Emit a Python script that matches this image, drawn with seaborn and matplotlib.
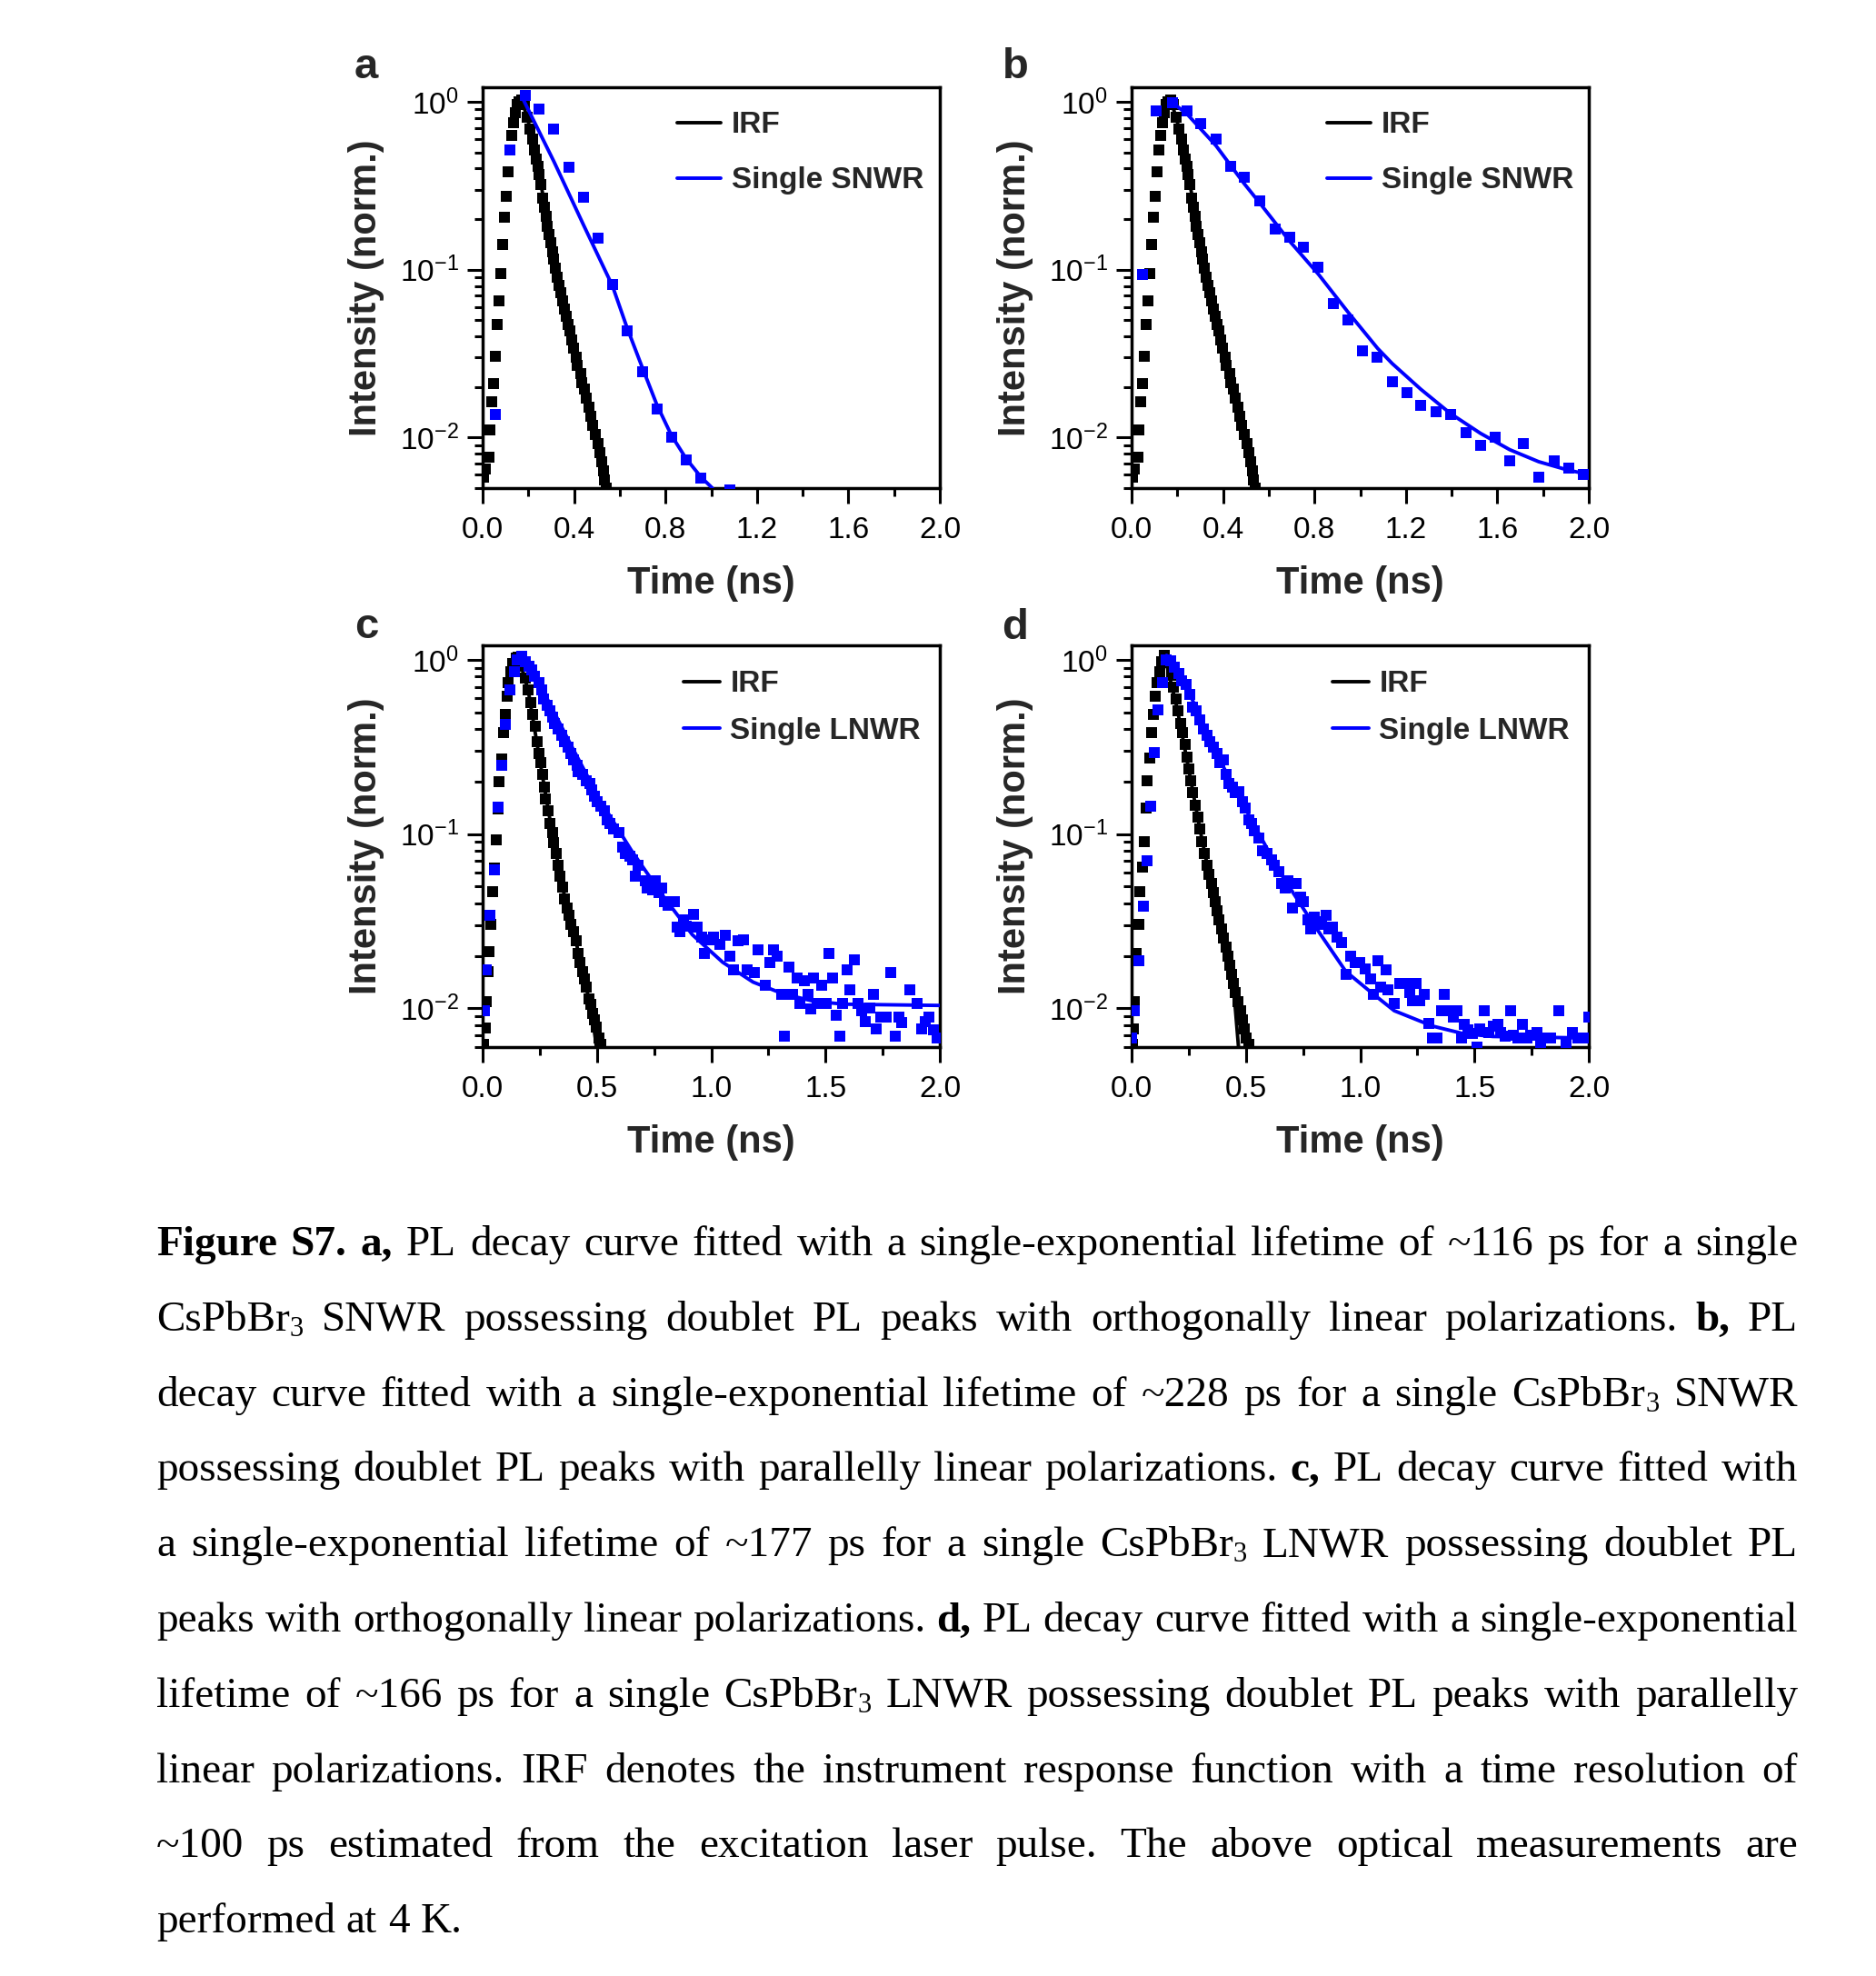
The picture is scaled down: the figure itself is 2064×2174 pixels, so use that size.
import matplotlib
matplotlib.use("Agg")
import matplotlib.pyplot as plt
import seaborn as sns
from matplotlib.lines import Line2D
from matplotlib.ticker import (MultipleLocator, FixedLocator, FixedFormatter,
                               LogLocator, NullFormatter, FormatStrFormatter)

# ---------------- data ----------------
# IRF used in panels a and b
irf_ab_t = [0.005, 0.013, 0.027, 0.032, 0.040, 0.048, 0.056, 0.065, 0.072, 0.081,
            0.089, 0.096, 0.105, 0.112, 0.120, 0.128, 0.136, 0.143, 0.151, 0.160,
            0.170, 0.182, 0.195, 0.208, 0.218, 0.226, 0.235, 0.242, 0.248, 0.255,
            0.264, 0.271, 0.279, 0.284, 0.292, 0.300, 0.305, 0.311, 0.319, 0.328,
            0.335, 0.343, 0.348, 0.356, 0.364, 0.374, 0.382, 0.388, 0.396, 0.408,
            0.414, 0.428, 0.434, 0.444, 0.454, 0.467, 0.474, 0.483, 0.494, 0.505,
            0.514, 0.521, 0.527, 0.534, 0.539]
irf_ab_i = [0.0058, 0.0065, 0.0076, 0.0111, 0.0163, 0.0209, 0.0306, 0.0474, 0.0652, 0.0948,
            0.141, 0.205, 0.274, 0.382, 0.515, 0.634, 0.748, 0.865, 0.968, 1.0,
            1.02, 0.96, 0.81, 0.69, 0.60, 0.515, 0.455, 0.41, 0.37, 0.32,
            0.265, 0.234, 0.207, 0.182, 0.161, 0.145, 0.128, 0.116, 0.102, 0.090,
            0.081, 0.073, 0.065, 0.058, 0.053, 0.047, 0.043, 0.038, 0.034, 0.030,
            0.027, 0.0239, 0.0211, 0.0194, 0.0171, 0.0151, 0.0134, 0.0118, 0.0104, 0.0092,
            0.0081, 0.0072, 0.0063, 0.0056, 0.0050]
irf_ab_fit_t = [0.150, 0.168, 0.200, 0.250, 0.300, 0.350, 0.400, 0.450, 0.500, 0.537]
irf_ab_fit_i = [0.97, 1.06, 0.76, 0.355, 0.145, 0.063, 0.033, 0.018, 0.0098, 0.0050]

# panel a, single SNWR
snwr_a_t = [0.056, 0.120, 0.185, 0.248, 0.312, 0.377, 0.441, 0.505, 0.568, 0.632,
            0.699, 0.762, 0.826, 0.890, 0.956, 1.081]
snwr_a_i = [0.0138, 0.519, 1.096, 0.909, 0.689, 0.408, 0.270, 0.155, 0.0812, 0.0431,
            0.0247, 0.0148, 0.0100, 0.00733, 0.00571, 0.0049]
snwr_a_fit_t = [0.175, 0.312, 0.441, 0.568, 0.632, 0.699, 0.762, 0.826, 0.890, 0.956, 1.005]
snwr_a_fit_i = [1.05, 0.44, 0.185, 0.080, 0.045, 0.026, 0.0157, 0.0103, 0.0075, 0.0058, 0.0050]

# panel b, single SNWR
snwr_b_t = [0.047, 0.109, 0.179, 0.242, 0.303, 0.370, 0.432, 0.492, 0.561, 0.627,
            0.691, 0.751, 0.817, 0.884, 0.946, 1.010, 1.074, 1.140, 1.204, 1.265,
            1.332, 1.395, 1.462, 1.526, 1.592, 1.654, 1.714, 1.781, 1.847, 1.911, 1.977]
snwr_b_i = [0.0932, 0.883, 0.99, 0.883, 0.742, 0.603, 0.415, 0.357, 0.256, 0.175,
            0.156, 0.136, 0.104, 0.0625, 0.0504, 0.0327, 0.030, 0.0214, 0.0186, 0.0155,
            0.0142, 0.0137, 0.0107, 0.0090, 0.0101, 0.00724, 0.0092, 0.00583, 0.00724, 0.0066, 0.0060]
snwr_b_fit_t = [0.173, 0.242, 0.369, 0.492, 0.561, 0.691, 0.817, 0.946, 1.076, 1.140,
                1.265, 1.395, 1.526, 1.654, 1.781, 1.911, 2.0]
snwr_b_fit_i = [1.0, 0.847, 0.548, 0.326, 0.249, 0.148, 0.094, 0.056, 0.034, 0.0276,
                0.0194, 0.0139, 0.0106, 0.00847, 0.00718, 0.00639, 0.00603]

# IRF in panel c
irf_c_t = [0.005, 0.011, 0.016, 0.024, 0.029, 0.035, 0.043, 0.051, 0.060, 0.066,
           0.073, 0.082, 0.090, 0.100, 0.106, 0.113, 0.122, 0.133, 0.146, 0.157,
           0.173, 0.186, 0.199, 0.210, 0.219, 0.229, 0.239, 0.246, 0.253, 0.263,
           0.270, 0.276, 0.286, 0.295, 0.306, 0.312, 0.322, 0.330, 0.338, 0.348,
           0.359, 0.369, 0.379, 0.385, 0.396, 0.409, 0.419, 0.425, 0.436, 0.445,
           0.454, 0.465, 0.473, 0.481, 0.489, 0.498, 0.508, 0.516]
irf_c_i = [0.0062, 0.00768, 0.0109, 0.0162, 0.0211, 0.0303, 0.047, 0.064, 0.0927, 0.140,
           0.200, 0.270, 0.383, 0.487, 0.619, 0.741, 0.853, 0.953, 1.02, 1.03,
           0.923, 0.787, 0.670, 0.571, 0.487, 0.415, 0.340, 0.290, 0.257, 0.219,
           0.187, 0.159, 0.1355, 0.1155, 0.1024, 0.0891, 0.0774, 0.066, 0.0574, 0.0499,
           0.0425, 0.0377, 0.0341, 0.0303, 0.0274, 0.0243, 0.0207, 0.0184, 0.0163, 0.0147,
           0.0133, 0.0114, 0.0105, 0.0093, 0.0086, 0.0078, 0.00676, 0.00624]
irf_c_fit_t = [0.140, 0.157, 0.200, 0.250, 0.300, 0.350, 0.400, 0.450, 0.478, 0.498]
irf_c_fit_i = [0.95, 1.05, 0.66, 0.265, 0.11, 0.049, 0.027, 0.0138, 0.0094, 0.0060]

# panel c, single LNWR
lnwr_c_t = [0.007, 0.016, 0.033, 0.051, 0.066, 0.082, 0.100, 0.120, 0.140, 0.153,
            0.170, 0.186, 0.202, 0.215, 0.226, 0.246, 0.259, 0.268, 0.282, 0.295,
            0.306, 0.316, 0.330, 0.346, 0.356, 0.372, 0.385, 0.399, 0.415, 0.419,
            0.439, 0.454, 0.468, 0.476, 0.489, 0.502, 0.516, 0.532, 0.545, 0.558,
            0.574, 0.598, 0.611, 0.625, 0.645, 0.658, 0.667, 0.678, 0.711, 0.720,
            0.742, 0.757, 0.771, 0.784, 0.797, 0.811, 0.837, 0.850, 0.864, 0.877,
            0.890, 0.924, 0.937, 0.957, 0.970, 0.990, 1.010, 1.037, 1.063, 1.083,
            1.096, 1.116, 1.143, 1.156, 1.189, 1.203, 1.236, 1.256, 1.273, 1.289,
            1.309, 1.322, 1.340, 1.355, 1.375, 1.389, 1.406, 1.422, 1.435, 1.448,
            1.462, 1.482, 1.502, 1.515, 1.531, 1.548, 1.561, 1.575, 1.595, 1.608,
            1.628, 1.641, 1.658, 1.674, 1.694, 1.708, 1.721, 1.741, 1.767, 1.787,
            1.805, 1.821, 1.834, 1.867, 1.900, 1.920, 1.938, 1.953, 1.973, 1.987]
lnwr_c_i = [0.0097, 0.0166, 0.0341, 0.0621, 0.142, 0.249, 0.428, 0.670, 0.853, 1.0,
            1.05, 0.98, 0.923, 0.87, 0.803, 0.741, 0.670, 0.594, 0.549, 0.507,
            0.468, 0.432, 0.399, 0.368, 0.340, 0.314, 0.290, 0.267, 0.247, 0.228,
            0.219, 0.202, 0.194, 0.179, 0.1655, 0.1528, 0.144, 0.1355, 0.120, 0.1155,
            0.1067, 0.1024, 0.0839, 0.0774, 0.0744, 0.0715, 0.0574, 0.066, 0.054, 0.0489,
            0.048, 0.054, 0.046, 0.0489, 0.0408, 0.0392, 0.0408, 0.0291, 0.0274, 0.0321,
            0.0297, 0.0348, 0.0291, 0.0258, 0.0207, 0.0248, 0.0258, 0.0233, 0.0263, 0.0199,
            0.0166, 0.0243, 0.0248, 0.0166, 0.0160, 0.0216, 0.0136, 0.0184, 0.0216, 0.0199,
            0.0121, 0.0069, 0.0173, 0.0121, 0.0150, 0.0107, 0.01445, 0.0121, 0.0099, 0.0150,
            0.0107, 0.0136, 0.0107, 0.0207, 0.0150, 0.0091, 0.0069, 0.0107, 0.0166, 0.0128,
            0.0191, 0.0107, 0.0097, 0.0084, 0.0101, 0.0121, 0.0076, 0.0089, 0.0089, 0.0160,
            0.0069, 0.0089, 0.0083, 0.0128, 0.0107, 0.0076, 0.0084, 0.0089, 0.0075, 0.0068]
lnwr_c_fit_t = [0.159, 0.2525, 0.385, 0.518, 0.651, 0.784, 0.917, 1.050, 1.183, 1.316,
                1.448, 1.581, 2.0]
lnwr_c_fit_i = [1.06, 0.712, 0.327, 0.153, 0.0805, 0.0451, 0.0265, 0.0184, 0.01416, 0.0121,
                0.0110, 0.01057, 0.0104]

# IRF in panel d
irf_d_t = [0.002, 0.007, 0.011, 0.020, 0.033, 0.037, 0.047, 0.056, 0.064, 0.069,
           0.080, 0.086, 0.096, 0.104, 0.113, 0.122, 0.133, 0.143,
           0.160, 0.173, 0.183, 0.193, 0.202, 0.213, 0.223, 0.233, 0.242, 0.250,
           0.259, 0.268, 0.279, 0.290, 0.299, 0.308, 0.319, 0.330, 0.339, 0.348,
           0.356, 0.365, 0.375, 0.383, 0.392, 0.401, 0.412, 0.420, 0.428, 0.439,
           0.447, 0.455, 0.465, 0.476, 0.485, 0.494, 0.502, 0.512]
irf_d_i = [0.0062, 0.0076, 0.0109, 0.0207, 0.0303, 0.047, 0.0647, 0.0908, 0.141, 0.202,
           0.273, 0.383, 0.487, 0.619, 0.741, 0.853, 0.98, 1.06,
           0.961, 0.819, 0.698, 0.595, 0.507, 0.432, 0.383, 0.327, 0.278, 0.237,
           0.202, 0.172, 0.147, 0.125, 0.1067, 0.0908, 0.0774, 0.066, 0.0585, 0.0519,
           0.046, 0.0408, 0.0362, 0.0321, 0.0285, 0.0253, 0.0224, 0.0199, 0.0177, 0.0156,
           0.0139, 0.0123, 0.0109, 0.0097, 0.0086, 0.0076, 0.00676, 0.00624]
irf_d_fit_t = [0.130, 0.143, 0.200, 0.250, 0.300, 0.350, 0.400, 0.430, 0.450, 0.470]
irf_d_fit_i = [0.95, 1.07, 0.52, 0.235, 0.105, 0.050, 0.0255, 0.0165, 0.0115, 0.0055]

# panel d, single LNWR
lnwr_d_t = [0.000, 0.011, 0.033, 0.051, 0.066, 0.082, 0.100, 0.117, 0.136, 0.153,
            0.170, 0.186, 0.206, 0.219, 0.239, 0.2525, 0.268, 0.282, 0.299, 0.316,
            0.330, 0.343, 0.356, 0.372, 0.385, 0.401, 0.415, 0.425, 0.441, 0.454,
            0.468, 0.485, 0.498, 0.512, 0.525, 0.538, 0.555, 0.574, 0.591, 0.611,
            0.625, 0.645, 0.658, 0.671, 0.684, 0.704, 0.718, 0.738, 0.751, 0.771,
            0.784, 0.800, 0.817, 0.831, 0.850, 0.864, 0.880, 0.897, 0.917, 0.937,
            0.957, 0.977, 0.997, 1.023, 1.047, 1.056, 1.076, 1.090, 1.114, 1.123,
            1.149, 1.172, 1.196, 1.216, 1.229, 1.246, 1.262, 1.282, 1.302, 1.316,
            1.336, 1.355, 1.369, 1.389, 1.406, 1.422, 1.442, 1.455, 1.472, 1.491,
            1.512, 1.522, 1.542, 1.561, 1.581, 1.601, 1.615, 1.635, 1.658, 1.668,
            1.688, 1.708, 1.728, 1.747, 1.774, 1.791, 1.807, 1.834, 1.867, 1.900,
            1.927, 1.951, 1.977, 2.000]
lnwr_d_i = [0.0068, 0.0097, 0.0187, 0.0385, 0.070, 0.144, 0.295, 0.517, 0.741, 1.0,
            0.99, 0.905, 0.835, 0.756, 0.726, 0.631, 0.538, 0.507, 0.450, 0.399,
            0.368, 0.340, 0.314, 0.290, 0.257, 0.267, 0.219, 0.194, 0.187, 0.172,
            0.176, 0.1528, 0.141, 0.120, 0.1155, 0.1045, 0.0946, 0.0805, 0.0774, 0.0715,
            0.066, 0.061, 0.0519, 0.0489, 0.054, 0.0377, 0.0519, 0.0434, 0.0408, 0.0321,
            0.0285, 0.0334, 0.0303, 0.0315, 0.0341, 0.0285, 0.0291, 0.0258, 0.0238, 0.0156,
            0.0199, 0.0184, 0.0184, 0.0169, 0.0147, 0.0121, 0.0187, 0.0133, 0.0166, 0.0128,
            0.0107, 0.0139, 0.0139, 0.0123, 0.0111, 0.0139, 0.0111, 0.0121, 0.0082, 0.00676,
            0.00676, 0.0097, 0.0121, 0.0097, 0.0089, 0.0097, 0.00676, 0.0081, 0.0075, 0.0072,
            0.0060, 0.0076, 0.0097, 0.0073, 0.0079, 0.0081, 0.0073, 0.0069, 0.0097, 0.00703,
            0.00676, 0.0081, 0.00676, 0.00703, 0.0073, 0.00624, 0.00676, 0.00676, 0.0097, 0.00624,
            0.0073, 0.00676, 0.00676, 0.0089]
lnwr_d_fit_t = [0.153, 0.2525, 0.385, 0.518, 0.651, 0.784, 0.937, 1.050, 1.149, 1.316,
                1.448, 1.581, 2.0]
lnwr_d_fit_i = [1.06, 0.644, 0.267, 0.125, 0.0597, 0.0321, 0.0163, 0.0123, 0.0097, 0.00792,
                0.00718, 0.0069, 0.00676]

panel_letters = ["a", "b", "c", "d"]
legend_labels = [["IRF", "Single SNWR"], ["IRF", "Single SNWR"],
                 ["IRF", "Single LNWR"], ["IRF", "Single LNWR"]]
ytick_values = [0.01, 0.1, 1.0]
ytick_labels = [r"$\mathregular{10^{-2}}$", r"$\mathregular{10^{-1}}$", r"$\mathregular{10^{0}}$"]

caption_lines = [
    "*Figure S7. a,* PL decay curve fitted with a single-exponential lifetime of ~116 ps for a single",
    "CsPbBr_3 SNWR possessing doublet PL peaks with orthogonally linear polarizations. *b,* PL",
    "decay curve fitted with a single-exponential lifetime of ~228 ps for a single CsPbBr_3 SNWR",
    "possessing doublet PL peaks with parallelly linear polarizations. *c,* PL decay curve fitted with",
    "a single-exponential lifetime of ~177 ps for a single CsPbBr_3 LNWR possessing doublet PL",
    "peaks with orthogonally linear polarizations. *d,* PL decay curve fitted with a single-exponential",
    "lifetime of ~166 ps for a single CsPbBr_3 LNWR possessing doublet PL peaks with parallelly",
    "linear polarizations. IRF denotes the instrument response function with a time resolution of",
    "~100 ps estimated from the excitation laser pulse. The above optical measurements are",
    "performed at 4 K.",
]

# ---------------- style ----------------
sns.set_theme(style="ticks")
plt.rcParams.update({
    "font.family": ["Liberation Sans", "DejaVu Sans"],
    "mathtext.fontset": "custom",
    "mathtext.rm": "Liberation Sans",
    "mathtext.it": "Liberation Sans:italic",
    "mathtext.bf": "Liberation Sans:bold",
    "axes.unicode_minus": False,
    "axes.edgecolor": "black",
    "axes.linewidth": 2.5,
    "xtick.color": "black",
    "ytick.color": "black",
})

W, H = 2064, 2174
fig = plt.figure(figsize=(W / 100, H / 100), dpi=100)
fig.patch.set_facecolor("white")

BLUE = "#0000ff"
MS = 66


def add_axes_px(left, top, right, bottom):
    return fig.add_axes([left / W, 1 - bottom / H, (right - left) / W, (bottom - top) / H])


panels = [
    dict(box=(531, 96, 1034, 537), irf=(irf_ab_t, irf_ab_i), irf_fit=(irf_ab_fit_t, irf_ab_fit_i),
         smp=(snwr_a_t, snwr_a_i), smp_fit=(snwr_a_fit_t, snwr_a_fit_i), ylim=(0.005, 1.22),
         xmaj=0.4, xmin=0.2, leg=(0.425, 0.940), hl=1.45, ls=0.90, letter=(403, 86)),
    dict(box=(1245, 96, 1748, 537), irf=(irf_ab_t, irf_ab_i), irf_fit=(irf_ab_fit_t, irf_ab_fit_i),
         smp=(snwr_b_t, snwr_b_i), smp_fit=(snwr_b_fit_t, snwr_b_fit_i), ylim=(0.005, 1.22),
         xmaj=0.4, xmin=0.2, leg=(0.427, 0.940), hl=1.45, ls=0.90, letter=(1117, 86)),
    dict(box=(531, 710, 1034, 1152), irf=(irf_c_t, irf_c_i), irf_fit=(irf_c_fit_t, irf_c_fit_i),
         smp=(lnwr_c_t, lnwr_c_i), smp_fit=(lnwr_c_fit_t, lnwr_c_fit_i), ylim=(0.006, 1.21),
         xmaj=0.5, xmin=0.25, leg=(0.439, 0.938), hl=1.2, ls=0.62, letter=(403, 702)),
    dict(box=(1245, 710, 1748, 1152), irf=(irf_d_t, irf_d_i), irf_fit=(irf_d_fit_t, irf_d_fit_i),
         smp=(lnwr_d_t, lnwr_d_i), smp_fit=(lnwr_d_fit_t, lnwr_d_fit_i), ylim=(0.006, 1.21),
         xmaj=0.5, xmin=0.25, leg=(0.439, 0.938), hl=1.2, ls=0.62, letter=(1117, 703)),
]

for k, p in enumerate(panels):
    ax = add_axes_px(*p["box"])
    sns.scatterplot(x=p["irf"][0], y=p["irf"][1], marker="s", s=MS, color="black",
                    linewidth=0, ax=ax, zorder=2)
    sns.lineplot(x=p["irf_fit"][0], y=p["irf_fit"][1], color="black", linewidth=2.8,
                 sort=False, estimator=None, ax=ax, zorder=3)
    sns.scatterplot(x=p["smp"][0], y=p["smp"][1], marker="s", s=MS, color=BLUE,
                    linewidth=0, ax=ax, zorder=4)
    sns.lineplot(x=p["smp_fit"][0], y=p["smp_fit"][1], color=BLUE, linewidth=2.8,
                 sort=False, estimator=None, ax=ax, zorder=5)
    ax.set_yscale("log")
    ax.set_xlim(0, 2.0)
    ax.set_ylim(*p["ylim"])
    ax.xaxis.set_major_locator(MultipleLocator(p["xmaj"]))
    ax.xaxis.set_minor_locator(MultipleLocator(p["xmin"]))
    ax.xaxis.set_major_formatter(FormatStrFormatter("%.1f"))
    ax.yaxis.set_major_locator(FixedLocator(ytick_values))
    ax.yaxis.set_major_formatter(FixedFormatter(ytick_labels))
    ax.yaxis.set_minor_locator(LogLocator(base=10, subs=[2, 3, 4, 5, 6, 7, 8, 9], numticks=20))
    ax.yaxis.set_minor_formatter(NullFormatter())
    ax.tick_params(which="both", direction="out", top=False, right=False, width=2.2,
                   labelsize=24, colors="black")
    ax.tick_params(axis="x", which="major", length=12, pad=10)
    ax.tick_params(axis="y", which="major", length=12, pad=7)
    ax.tick_params(which="minor", length=6.5)
    for sp in ax.spines.values():
        sp.set_visible(True)
        sp.set_linewidth(2.5)
        sp.set_color("black")
    ax.set_xlabel("Time (ns)", fontsize=30, fontweight="bold", labelpad=17)
    ax.set_ylabel("Intensity (norm.)", fontsize=30, fontweight="bold", labelpad=12)
    handles = [Line2D([0], [0], color="black", lw=2.8), Line2D([0], [0], color=BLUE, lw=2.8)]
    ax.legend(handles, legend_labels[k], loc="upper left", bbox_to_anchor=p["leg"],
              frameon=False, prop={"weight": "bold", "size": 24},
              handlelength=p["hl"], handletextpad=0.35, labelspacing=p["ls"],
              borderpad=0, borderaxespad=0)
    lx, ly = p["letter"]
    fig.text(lx / W, 1 - ly / H, panel_letters[k], fontsize=34, fontweight="bold",
             ha="center", va="baseline")

# ---------------- caption (justified) ----------------
CAP_FS = 34
SUB_FS = 22
SERIF = ["Liberation Serif", "DejaVu Serif"]
renderer = fig.canvas.get_renderer()


def parse_line(line, bold):
    words = []
    for w in line.split(" "):
        runs, cur, i = [], "", 0
        while i < len(w):
            c = w[i]
            if c == "*":
                if cur:
                    runs.append((cur, "b" if bold else "r"))
                    cur = ""
                bold = not bold
            elif c == "_":
                if cur:
                    runs.append((cur, "b" if bold else "r"))
                    cur = ""
                runs.append((w[i + 1], "s"))
                i += 1
            else:
                cur += c
            i += 1
        if cur:
            runs.append((cur, "b" if bold else "r"))
        words.append(runs)
    return words, bold


def make_text(x, y, s, style):
    return fig.text(x / W, 1 - y / H, s, family=SERIF,
                    fontsize=SUB_FS if style == "s" else CAP_FS,
                    fontweight="bold" if style == "b" else "normal",
                    ha="left", va="baseline", color="black")


def run_width(s, style):
    t = make_text(0, 0, s, style)
    w = t.get_window_extent(renderer).width
    t.remove()
    return w


X0, X1 = 172, 1978
Y0, DY = 1381, 82.8
space_w = run_width("a a", "r") - 2 * run_width("a", "r")
bold_state = False
for li, line in enumerate(caption_lines):
    words, bold_state = parse_line(line, bold_state)
    widths = [sum(run_width(s, st) for s, st in wd) for wd in words]
    last = li == len(caption_lines) - 1
    if last or len(words) < 2:
        gap = space_w
    else:
        gap = (X1 - X0 - sum(widths)) / (len(words) - 1)
    y = Y0 + li * DY
    x = X0
    for wd, ww in zip(words, widths):
        xx = x
        for s, st in wd:
            make_text(xx, y + (6 if st == "s" else 0), s, st)
            xx += run_width(s, st)
        x += ww + gap

fig.savefig("out.png", dpi=100, facecolor="white")
